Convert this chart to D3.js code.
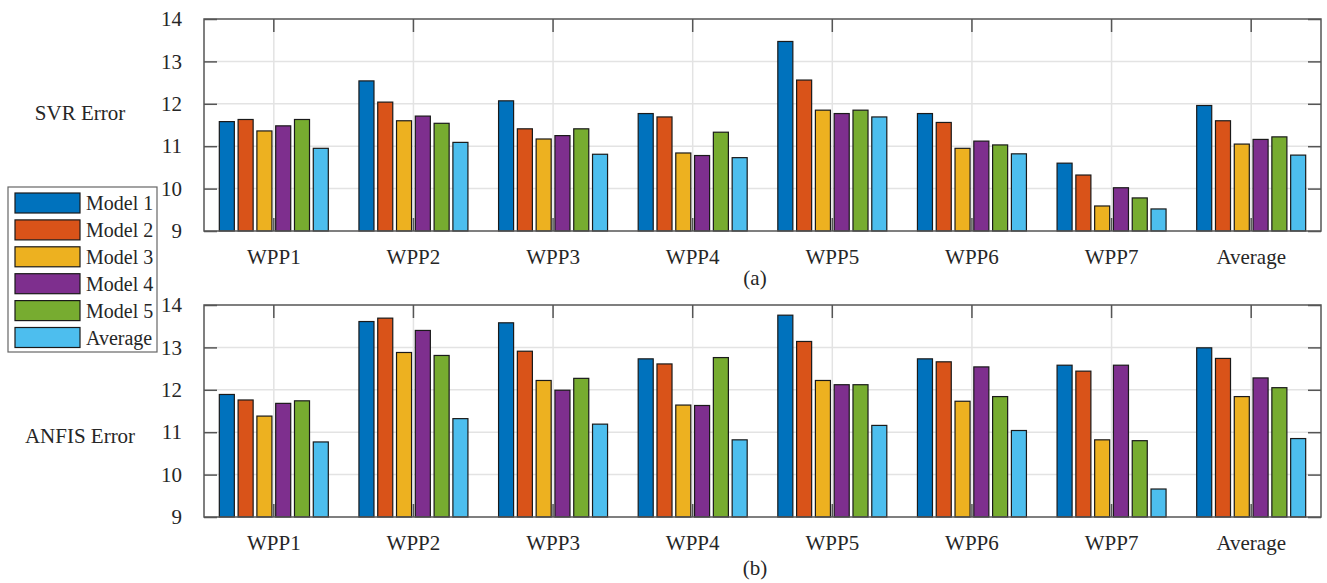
<!DOCTYPE html>
<html>
<head>
<meta charset="utf-8">
<title>SVR / ANFIS Error</title>
<script src="https://d3js.org/d3.v7.min.js"></script>
<style>
  body { margin: 0; background: #fff; }
  svg text { font-family: "Times New Roman", "Liberation Serif", Tinos, Times, serif !important; fill: #262626; }
</style>
</head>
<body>
<svg width="1327" height="583"></svg>
<script>
// categories and series
var groups = ["WPP1", "WPP2", "WPP3", "WPP4", "WPP5", "WPP6", "WPP7", "Average"];
var series = ["Model 1", "Model 2", "Model 3", "Model 4", "Model 5", "Average"];
var colors = ["#0072BD", "#D95319", "#EDB120", "#7E2F8E", "#77AC30", "#4DBEEE"];
var yTicks = [9, 10, 11, 12, 13, 14];

// SVR error, one row per group (Model 1..5, Average)
var svr = [
  [11.58, 11.63, 11.36, 11.48, 11.63, 10.95],
  [12.54, 12.04, 11.60, 11.71, 11.54, 11.09],
  [12.07, 11.41, 11.17, 11.25, 11.41, 10.81],
  [11.77, 11.69, 10.84, 10.78, 11.33, 10.73],
  [13.47, 12.56, 11.85, 11.77, 11.85, 11.69],
  [11.77, 11.56, 10.95, 11.12, 11.03, 10.82],
  [10.60, 10.32, 9.59, 10.02, 9.78, 9.52],
  [11.96, 11.60, 11.05, 11.16, 11.22, 10.79]
];

// ANFIS error
var anfis = [
  [11.89, 11.76, 11.38, 11.68, 11.74, 10.77],
  [13.61, 13.69, 12.88, 13.40, 12.81, 11.32],
  [13.58, 12.91, 12.22, 11.99, 12.27, 11.19],
  [12.73, 12.61, 11.64, 11.63, 12.76, 10.82],
  [13.76, 13.14, 12.22, 12.12, 12.12, 11.16],
  [12.73, 12.66, 11.73, 12.54, 11.84, 11.04],
  [12.58, 12.44, 10.82, 12.58, 10.80, 9.66],
  [12.99, 12.74, 11.84, 12.28, 12.05, 10.85]
];

var svg = d3.select("svg");
var left = 204, right = 1321;

var x0 = d3.scaleBand().domain(groups).range([left, right]);
var x1 = d3.scaleBand().domain(series).range([0, x0.bandwidth()])
    .paddingInner(0.2).paddingOuter(0.815);
var color = d3.scaleOrdinal().domain(series).range(colors);

function panel(data, top, bottom, ylabel, ylabelY, caption, captionY) {
  var y = d3.scaleLinear().domain([9, 14]).range([bottom, top]);
  var g = svg.append("g");

  // grid
  g.selectAll(".hgrid").data(yTicks.slice(1, -1)).enter().append("line")
    .attr("x1", left).attr("x2", right)
    .attr("y1", function(d) { return y(d); }).attr("y2", function(d) { return y(d); })
    .attr("stroke", "#e3e3e3").attr("stroke-width", 1.5);
  g.selectAll(".vgrid").data(groups).enter().append("line")
    .attr("x1", function(d) { return x0(d) + x0.bandwidth() / 2; })
    .attr("x2", function(d) { return x0(d) + x0.bandwidth() / 2; })
    .attr("y1", top).attr("y2", bottom)
    .attr("stroke", "#e3e3e3").attr("stroke-width", 1.5);

  // x ticks (top and bottom, inward)
  groups.forEach(function(d) {
    var cx = x0(d) + x0.bandwidth() / 2;
    g.append("line").attr("x1", cx).attr("x2", cx).attr("y1", top).attr("y2", top + 13)
      .attr("stroke", "#555").attr("stroke-width", 1.5);
    g.append("line").attr("x1", cx).attr("x2", cx).attr("y1", bottom).attr("y2", bottom - 13)
      .attr("stroke", "#555").attr("stroke-width", 1.5);
  });

  // bars
  g.selectAll(".grp").data(data).enter().append("g")
    .attr("transform", function(d, i) { return "translate(" + x0(groups[i]) + ",0)"; })
    .selectAll("rect")
    .data(function(d) { return d.map(function(v, j) { return { s: series[j], v: v }; }); })
    .enter().append("rect")
      .attr("x", function(d) { return x1(d.s); })
      .attr("width", x1.bandwidth())
      .attr("y", function(d) { return y(d.v); })
      .attr("height", function(d) { return y(9) - y(d.v); })
      .attr("fill", function(d) { return color(d.s); })
      .attr("stroke", "#1a1a1a").attr("stroke-width", 1.2);

  // box
  g.append("rect").attr("x", left).attr("y", top)
    .attr("width", right - left).attr("height", bottom - top)
    .attr("fill", "none").attr("stroke", "#555").attr("stroke-width", 1.5);

  // y axis ticks, left and right
  var yl = g.append("g").attr("transform", "translate(" + left + ",0)")
    .call(d3.axisLeft(y).tickValues(yTicks).tickSize(-13).tickPadding(22).tickFormat(d3.format("d")));
  yl.select(".domain").remove();
  yl.selectAll("line").attr("stroke", "#555").attr("stroke-width", 1.5);
  yl.selectAll("text").attr("font-size", 21).attr("fill", "#262626");
  var yr = g.append("g").attr("transform", "translate(" + right + ",0)")
    .call(d3.axisRight(y).tickValues(yTicks).tickSize(-13).tickFormat(""));
  yr.select(".domain").remove();
  yr.selectAll("line").attr("stroke", "#555").attr("stroke-width", 1.5);

  // x labels
  g.selectAll(".xl").data(groups).enter().append("text")
    .attr("x", function(d) { return x0(d) + x0.bandwidth() / 2; })
    .attr("y", bottom + 33)
    .attr("text-anchor", "middle")
    .attr("font-size", 21)
    .text(function(d) { return d; });

  svg.append("text").attr("x", 80).attr("y", ylabelY)
    .attr("text-anchor", "middle").attr("font-size", 21).text(ylabel);
  svg.append("text").attr("x", 755).attr("y", captionY)
    .attr("text-anchor", "middle").attr("font-size", 21).text(caption);
}

panel(svr, 19, 231, "SVR Error", 120, "(a)", 285);
panel(anfis, 305, 517, "ANFIS Error", 443, "(b)", 575);

// legend
var lg = svg.append("g");
lg.append("rect").attr("x", 8).attr("y", 187).attr("width", 149).attr("height", 165)
  .attr("fill", "#fff").attr("stroke", "#666").attr("stroke-width", 1.2);
var item = lg.selectAll(".item").data(series).enter().append("g")
  .attr("transform", function(d, i) { return "translate(0," + (193 + i * 26.9) + ")"; });
item.append("rect").attr("x", 15).attr("y", 0).attr("width", 65).attr("height", 20)
  .attr("fill", function(d) { return color(d); })
  .attr("stroke", "#1a1a1a").attr("stroke-width", 1.2);
item.append("text").attr("x", 86).attr("y", 17).attr("font-size", 20)
  .text(function(d) { return d; });
</script>
</body>
</html>
